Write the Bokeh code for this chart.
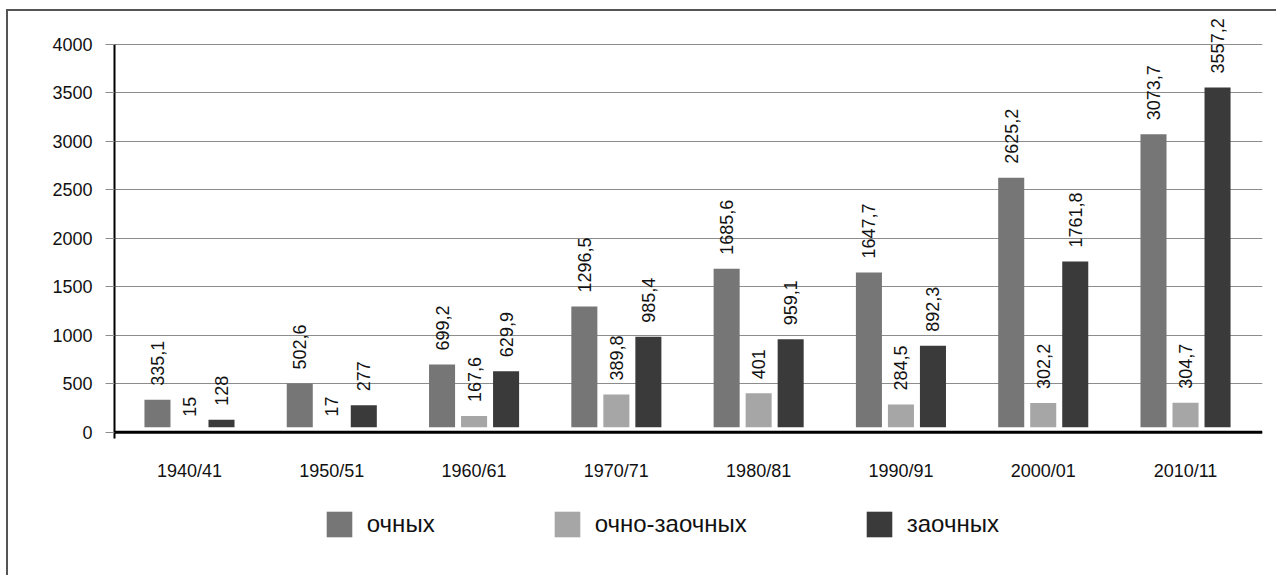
import numpy as np
from bokeh.plotting import figure
from bokeh.layouts import column
from bokeh.models import (ColumnDataSource, FixedTicker, Span, Legend, LegendItem)
from bokeh.core.properties import value
from bokeh.embed import file_html
from bokeh.resources import INLINE

# ---- data ----
years = ["1940/41", "1950/51", "1960/61", "1970/71", "1980/81", "1990/91", "2000/01", "2010/11"]
ochnyh = [335.1, 502.6, 699.2, 1296.5, 1685.6, 1647.7, 2625.2, 3073.7]
ochno_zaochnyh = [15, 17, 167.6, 389.8, 401, 284.5, 302.2, 304.7]
zaochnyh = [128, 277, 629.9, 985.4, 959.1, 892.3, 1761.8, 3557.2]
series_names = ["очных", "очно-заочных", "заочных"]
y_ticks = [0, 500, 1000, 1500, 2000, 2500, 3000, 3500, 4000]

# ---- style ----
COLORS = ["#767676", "#a6a6a6", "#3a3a3a"]
FONT = "Liberation Sans"
BAR_W = 0.183
OFFSETS = [-0.225, 0.0, 0.225]
BAR_BASE = 50
W = 1276

def fmt(v):
    s = ("%.1f" % v).rstrip("0").rstrip(".")
    return s.replace(".", ",")

p = figure(width=W, height=490, output_backend="svg", toolbar_location=None,
           x_range=(-0.527, 7.541), y_range=(-65, 4330),
           min_border_left=114, min_border_right=14, min_border_top=12,
           min_border_bottom=52)
# thin frame line along the top and left edge of the whole chart (no layout change)
p.styles = {"box-shadow": "inset 6px 9px 0 0 white, inset 8px 11px 0 0 #555555"}
p.outline_line_color = None
p.background_fill_color = None
p.border_fill_color = None

idx = np.arange(len(years))
renderers = []
for k, vals in enumerate([ochnyh, ochno_zaochnyh, zaochnyh]):
    vals = np.array(vals, dtype=float)
    src = ColumnDataSource(dict(
        x=idx + OFFSETS[k],
        top=np.maximum(vals, BAR_BASE),
        val=vals,
        lbl=[fmt(v) for v in vals],
    ))
    r = p.vbar(x="x", top="top", bottom=BAR_BASE, width=BAR_W, source=src,
               fill_color=COLORS[k], line_color=None)
    renderers.append(r)
    p.text(x="x", y="val", text="lbl", source=src, angle=np.pi / 2,
           text_align="left", text_baseline="middle", y_offset=-14,
           text_font=value(FONT), text_font_size="18px", text_color="#111111")

# zero line (x axis line)
p.add_layout(Span(location=0, dimension="width", line_color="black", line_width=3))

# grid
p.xgrid.grid_line_color = None
p.ygrid.ticker = FixedTicker(ticks=y_ticks)
p.ygrid.grid_line_color = "#8c8c8c"
p.ygrid.grid_line_width = 1

# y axis
p.yaxis.ticker = FixedTicker(ticks=y_ticks)
p.yaxis.bounds = (-65, 4000)
p.yaxis.axis_line_color = "black"
p.yaxis.axis_line_width = 2
p.yaxis.major_tick_line_color = "#8c8c8c"
p.yaxis.major_tick_out = 9
p.yaxis.major_tick_in = 0
p.yaxis.minor_tick_line_color = None
p.yaxis.major_label_standoff = 13
p.yaxis.major_label_text_font = FONT
p.yaxis.major_label_text_font_size = "18px"
p.yaxis.major_label_text_color = "#111111"

# x axis
p.xaxis.ticker = FixedTicker(ticks=list(idx))
p.xaxis.major_label_overrides = {int(i): y for i, y in zip(idx, years)}
p.xaxis.axis_line_color = None
p.xaxis.major_tick_line_color = None
p.xaxis.major_tick_out = 0
p.xaxis.minor_tick_line_color = None
p.xaxis.major_label_standoff = 22
p.xaxis.major_label_text_font = FONT
p.xaxis.major_label_text_font_size = "18px"
p.xaxis.major_label_text_color = "#111111"

# ---- legend strip (separate figure beneath) ----
LH = 85
pl = figure(width=W, height=LH, output_backend="svg", toolbar_location=None,
            x_range=(0, 1), y_range=(0, 1),
            min_border_left=0, min_border_right=0, min_border_top=0, min_border_bottom=0)
pl.styles = {"box-shadow": "inset 6px 0 0 0 white, inset 8px 0 0 0 #555555"}
pl.axis.visible = False
pl.grid.grid_line_color = None
pl.outline_line_color = None
pl.background_fill_color = None
pl.border_fill_color = None
# legend-only glyphs, placed outside the visible range of this strip
leg_renderers = [pl.vbar(x=[-5], top=[-5], bottom=[-6], width=0.1, fill_color=c, line_color=None)
                 for c in COLORS]

legend = Legend(items=[LegendItem(label=n, renderers=[r]) for n, r in zip(series_names, leg_renderers)],
                orientation="horizontal", location=(208.8, 35.2),
                glyph_width=32, glyph_height=32, label_standoff=12, spacing=116,
                padding=0, margin=0, border_line_alpha=0, background_fill_alpha=0,
                label_text_font=FONT, label_text_font_size="24px",
                label_text_color="#111111")
pl.add_layout(legend, "center")

layout = column(p, pl, spacing=0)
open("out.html", "w").write(file_html(layout, INLINE))
